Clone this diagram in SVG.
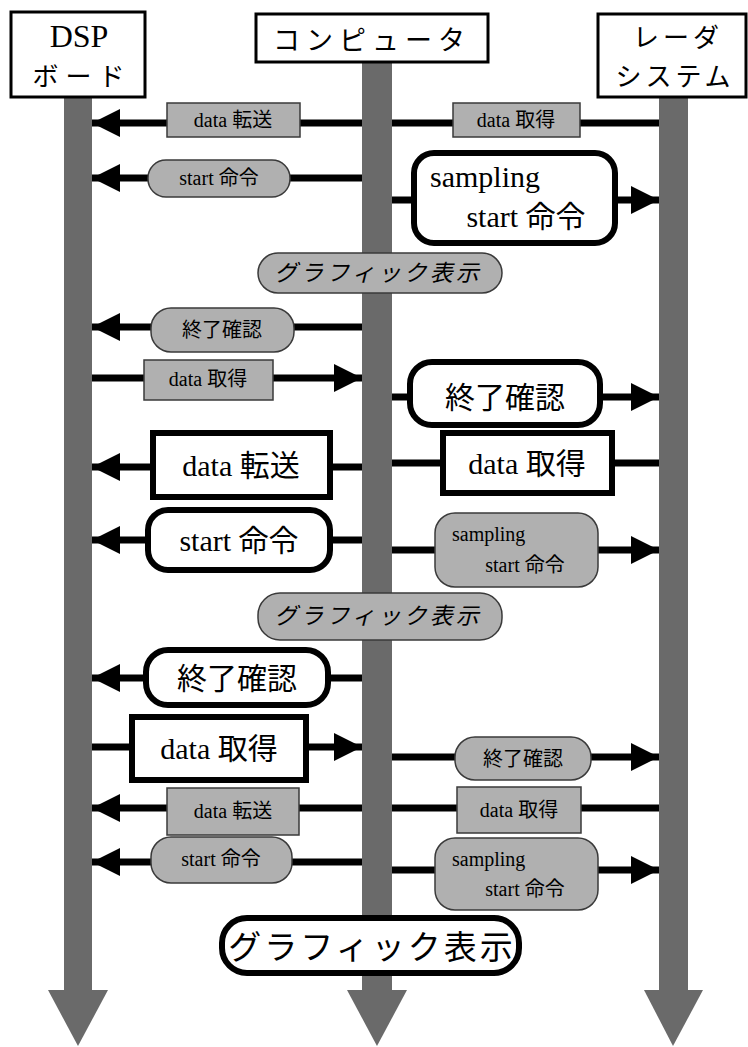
<svg xmlns="http://www.w3.org/2000/svg" width="748" height="1047" viewBox="0 0 748 1047">
<style>
.t{font-family:'Liberation Serif','Noto Sans CJK JP',serif;fill:#000;text-anchor:middle}
.hd{font-size:29px}
.big{font-size:30px}
.sm{font-size:20px}
.gfx{font-size:23px;font-style:italic}
.hbox{fill:#fff;stroke:#000;stroke-width:3}
.wbox{fill:#fff;stroke:#000;stroke-width:6}
.gbox{fill:#b0b0b0;stroke:#3a3a3a;stroke-width:1.5}
.life{fill:#6a6a6a}
.ln{stroke:#000;stroke-width:7;fill:none}
</style>
<defs>
<marker id="ah" markerUnits="userSpaceOnUse" markerWidth="30" markerHeight="28" refX="28" refY="14" orient="auto">
<path d="M0,0 L28,14 L0,28 Z" fill="#000"/>
</marker>
</defs>

<g id="lifelines">
<rect class="life" x="64" y="97" width="28" height="895"/>
<polygon class="life" points="48,990 108,990 78,1046"/>
<rect class="life" x="362" y="62" width="30" height="930"/>
<polygon class="life" points="347,990 407,990 377,1046"/>
<rect class="life" x="659" y="97" width="29" height="895"/>
<polygon class="life" points="644,990 703,990 673,1046"/>
</g>

<g id="connectors">
<line class="ln" x1="362" y1="123" x2="92" y2="123" marker-end="url(#ah)"/>
<line class="ln" x1="659" y1="123" x2="392" y2="123"/>
<line class="ln" x1="362" y1="178" x2="92" y2="178" marker-end="url(#ah)"/>
<line class="ln" x1="392" y1="200" x2="659" y2="200" marker-end="url(#ah)"/>
<line class="ln" x1="362" y1="327" x2="92" y2="327" marker-end="url(#ah)"/>
<line class="ln" x1="92" y1="378" x2="362" y2="378" marker-end="url(#ah)"/>
<line class="ln" x1="392" y1="397" x2="659" y2="397" marker-end="url(#ah)"/>
<line class="ln" x1="362" y1="467" x2="92" y2="467" marker-end="url(#ah)"/>
<line class="ln" x1="659" y1="463" x2="392" y2="463"/>
<line class="ln" x1="362" y1="540" x2="92" y2="540" marker-end="url(#ah)"/>
<line class="ln" x1="392" y1="550" x2="659" y2="550" marker-end="url(#ah)"/>
<line class="ln" x1="362" y1="678" x2="92" y2="678" marker-end="url(#ah)"/>
<line class="ln" x1="92" y1="747" x2="362" y2="747" marker-end="url(#ah)"/>
<line class="ln" x1="392" y1="757" x2="659" y2="757" marker-end="url(#ah)"/>
<line class="ln" x1="362" y1="808" x2="92" y2="808" marker-end="url(#ah)"/>
<line class="ln" x1="659" y1="808" x2="392" y2="808"/>
<line class="ln" x1="362" y1="862" x2="92" y2="862" marker-end="url(#ah)"/>
<line class="ln" x1="392" y1="870" x2="659" y2="870" marker-end="url(#ah)"/>
</g>

<g id="dsp">
<rect class="hbox" x="11" y="12" width="134" height="85"/>
<text class="t" x="79" y="47" font-size="32">DSP</text>
<text class="t" x="82" y="86" letter-spacing="7" font-size="26">ボード</text>
</g>
<g id="computer">
<rect class="hbox" x="256" y="14" width="232" height="48"/>
<text class="t" x="372" y="50" letter-spacing="6" font-size="27">コンピュータ</text>
</g>
<g id="radar">
<rect class="hbox" x="598" y="14" width="148" height="83"/>
<text class="t" x="678" y="47" letter-spacing="4" font-size="26">レーダ</text>
<text class="t" x="675" y="86" letter-spacing="4" font-size="26">システム</text>
</g>

<g id="r1-transfer">
<rect class="gbox" x="167" y="103" width="133" height="34"/>
<text class="t sm" x="233" y="127">data 転送</text>
</g>
<g id="r1-acquire">
<rect class="gbox" x="453" y="103" width="127" height="34"/>
<text class="t sm" x="516" y="127">data 取得</text>
</g>
<g id="r2-start">
<rect class="gbox" x="148" y="160" width="142" height="37" rx="18"/>
<text class="t sm" x="219" y="185">start 命令</text>
</g>
<g id="r2-sampling">
<rect class="wbox" x="414" y="153" width="201" height="90" rx="20"/>
<text class="t big" x="430" y="187" style="text-anchor:start">sampling</text>
<text class="t big" x="526" y="227">start 命令</text>
</g>
<g id="r3-graphic">
<rect class="gbox" x="258" y="253" width="244" height="40" rx="20"/>
<text class="t gfx" x="378" y="281" letter-spacing="3">グラフィック表示</text>
</g>
<g id="r4-end">
<rect class="gbox" x="151" y="308" width="143" height="44" rx="20"/>
<text class="t sm" x="222" y="337" font-size="22">終了確認</text>
</g>
<g id="r5-acquire">
<rect class="gbox" x="144" y="360" width="129" height="40"/>
<text class="t sm" x="208" y="386">data 取得</text>
</g>
<g id="r5-end">
<rect class="wbox" x="410" y="362" width="190" height="63" rx="22"/>
<text class="t big" x="505" y="408">終了確認</text>
</g>
<g id="r6-transfer">
<rect class="wbox" x="153" y="433" width="177" height="64"/>
<text class="t big" x="241" y="476">data 転送</text>
</g>
<g id="r6-acquire">
<rect class="wbox" x="443" y="433" width="169" height="60"/>
<text class="t big" x="527" y="474">data 取得</text>
</g>
<g id="r7-start">
<rect class="wbox" x="148" y="510" width="182" height="60" rx="20"/>
<text class="t big" x="239" y="551">start 命令</text>
</g>
<g id="r7-sampling">
<rect class="gbox" x="435" y="513" width="163" height="74" rx="20"/>
<text class="t sm" x="452" y="541" style="text-anchor:start">sampling</text>
<text class="t sm" x="525" y="572">start 命令</text>
</g>
<g id="r8-graphic">
<rect class="gbox" x="258" y="593" width="244" height="47" rx="22"/>
<text class="t gfx" x="378" y="624" letter-spacing="3">グラフィック表示</text>
</g>
<g id="r9-end">
<rect class="wbox" x="146" y="650" width="182" height="55" rx="22"/>
<text class="t big" x="237" y="689">終了確認</text>
</g>
<g id="r10-acquire">
<rect class="wbox" x="132" y="717" width="174" height="63"/>
<text class="t big" x="219" y="759">data 取得</text>
</g>
<g id="r10-end">
<rect class="gbox" x="455" y="737" width="136" height="43" rx="20"/>
<text class="t sm" x="523" y="766" font-size="22">終了確認</text>
</g>
<g id="r11-transfer">
<rect class="gbox" x="167" y="788" width="132" height="47"/>
<text class="t sm" x="233" y="818">data 転送</text>
</g>
<g id="r11-acquire">
<rect class="gbox" x="457" y="787" width="124" height="46"/>
<text class="t sm" x="519" y="817">data 取得</text>
</g>
<g id="r12-start">
<rect class="gbox" x="151" y="837" width="141" height="46" rx="20"/>
<text class="t sm" x="221" y="866">start 命令</text>
</g>
<g id="r12-sampling">
<rect class="gbox" x="435" y="838" width="163" height="72" rx="20"/>
<text class="t sm" x="452" y="866" style="text-anchor:start">sampling</text>
<text class="t sm" x="525" y="896">start 命令</text>
</g>
<g id="r13-graphic">
<rect class="wbox" x="222" y="918" width="297" height="55" rx="25"/>
<text class="t" x="372" y="959" font-size="33" letter-spacing="3">グラフィック表示</text>
</g>
</svg>
